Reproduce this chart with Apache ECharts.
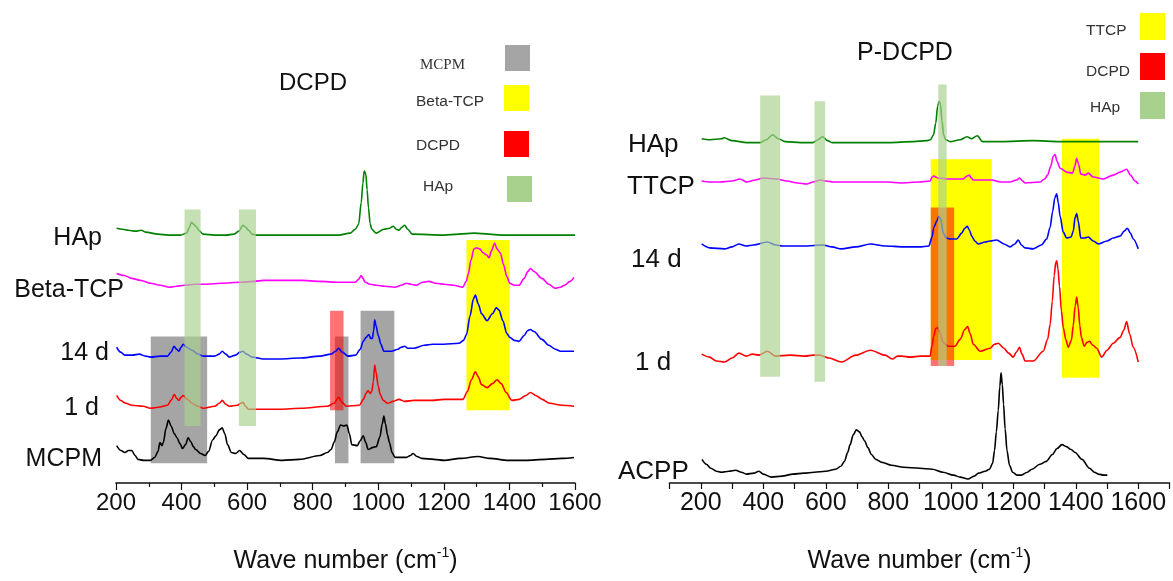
<!DOCTYPE html>
<html>
<head>
<meta charset="utf-8">
<title>Raman spectra: DCPD and P-DCPD</title>
<script src="https://cdn.jsdelivr.net/npm/echarts@6/dist/echarts.min.js"></script>
<style>
  html, body { margin: 0; padding: 0; background: #fff; }
  #chart { width: 1173px; height: 581px; }
</style>
</head>
<body>
<div id="chart"></div>
<script>
// ---- Left panel (DCPD): stacked spectra, [wave number, offset intensity] ----
const dcpdHAp = [[202,259],[220,258],[237,257],[260,256],[277,257],[290,255],[328,253],[360,252],[397,252],[415,254],[424,260],[430,265],[437,263],[443,261],[455,256],[466,253],[500,252],[535,252],[560,253],[575,256],[587,262],[596,260],[604,257],[615,253],[627,252],[750,252],[879,252],[914,254],[930,258],[940,263],[948,285],[953,305],[957,317],[962,314],[966,298],[970,280],[975,264],[980,258],[994,254],[1017,258],[1035,259],[1046,261],[1055,258],[1063,257],[1072,260],[1080,262],[1090,258],[1103,253],[1200,252],[1246,253],[1292,254],[1338,253],[1373,252],[1600,252]];
const dcpdBetaTCP = [[202,213],[225,211],[248,208],[275,206],[305,203],[335,201],[363,199],[385,200],[409,201],[440,202],[478,202],[520,203],[581,204],[620,205],[650,206],[700,206],[765,206],[820,205],[879,204],[930,204],[940,207],[948,211],[953,208],[960,204],[975,202],[994,201],[1020,200],[1051,199],[1070,201],[1086,203],[1100,202],[1115,201],[1135,204],[1155,205],[1175,203],[1201,202],[1230,201],[1258,199],[1268,205],[1275,213],[1282,226],[1292,238],[1300,239],[1309,238],[1320,234],[1330,232],[1338,229],[1345,236],[1355,244],[1362,238],[1372,234],[1382,222],[1392,210],[1401,203],[1415,201],[1429,201],[1445,208],[1456,215],[1464,218],[1475,215],[1499,208],[1520,202],[1539,198],[1555,199],[1568,201],[1585,205],[1597,209]];
const dcpd14d = [[202,138],[214,133],[227,130],[250,130],[271,131],[290,129],[305,128],[335,129],[357,129],[368,133],[377,139],[385,136],[392,134],[398,138],[405,141],[415,138],[432,135],[450,131],[466,129],[501,129],[515,131],[524,134],[535,131],[546,128],[565,130],[578,133],[587,134],[598,131],[615,128],[650,126],[700,126],[760,127],[822,129],[856,131],[870,134],[879,137],[890,133],[908,129],[931,130],[945,136],[954,144],[963,148],[971,151],[977,147],[982,147],[986,155],[989,166],[993,160],[1000,150],[1008,141],[1017,134],[1040,134],[1060,136],[1070,138],[1080,139],[1090,137],[1109,137],[1140,140],[1166,141],[1200,141],[1246,142],[1260,145],[1269,151],[1280,170],[1290,187],[1296,191],[1305,182],[1315,172],[1332,165],[1348,172],[1360,178],[1368,176],[1380,165],[1392,152],[1401,148],[1415,145],[1429,144],[1445,150],[1456,155],[1464,156],[1475,154],[1499,146],[1520,140],[1540,136],[1556,134],[1575,134],[1597,134]];
const dcpd1d = [[202,89],[214,84],[230,81],[248,79],[283,78],[305,76],[330,77],[357,79],[368,84],[378,90],[385,86],[392,84],[398,87],[405,89],[418,85],[432,81],[450,78],[466,76],[501,78],[515,81],[524,84],[535,80],[546,78],[570,79],[580,81],[587,82],[595,78],[604,75],[700,75],[765,76],[845,78],[865,81],[879,87],[890,82],[902,78],[942,79],[955,85],[962,91],[969,94],[975,91],[980,93],[985,103],[989,120],[993,113],[1000,98],[1006,90],[1015,84],[1029,81],[1045,83],[1063,85],[1080,83],[1109,84],[1140,84],[1166,84],[1200,85],[1258,85],[1272,93],[1284,105],[1296,113],[1305,108],[1315,100],[1332,97],[1348,101],[1362,105],[1375,101],[1390,92],[1407,84],[1430,85],[1450,89],[1464,92],[1480,89],[1500,85],[1522,81],[1560,79],[1597,78]];
const dcpdMCPM = [[202,38],[215,33],[227,31],[238,33],[248,33],[258,28],[267,24],[285,23],[305,23],[318,26],[328,32],[334,41],[340,38],[345,42],[352,55],[360,64],[368,58],[378,50],[386,46],[395,40],[403,35],[412,39],[420,46],[428,42],[436,37],[443,34],[458,30],[472,28],[482,32],[495,44],[505,48],[515,54],[524,56],[532,50],[540,39],[552,31],[565,30],[577,33],[590,29],[604,25],[650,25],[707,23],[760,24],[822,28],[845,31],[856,34],[866,42],[875,52],[885,59],[895,58],[904,59],[912,50],[919,39],[936,38],[945,43],[954,48],[962,41],[969,34],[982,36],[994,37],[1005,47],[1012,60],[1017,68],[1022,60],[1028,49],[1034,41],[1042,31],[1051,26],[1070,26],[1086,26],[1098,28],[1106,30],[1118,27],[1132,25],[1170,24],[1201,23],[1250,25],[1304,27],[1340,25],[1396,23],[1450,23],[1510,24],[1560,25],[1597,26]];

// Phase bands: [from, to, low, high, phase]
const dcpdBands = [
  [306, 478, 20, 149, 'MCPM'],
  [868, 909, 20, 149, 'MCPM'],
  [946, 1049, 20, 175, 'MCPM'],
  [1269, 1401, 74, 247, 'Beta-TCP'],
  [853, 894, 74, 175, 'DCPD'],
  [409, 458, 58, 278, 'HAp'],
  [575, 627, 58, 278, 'HAp']
];

// ---- Right panel (P-DCPD) ----
const pdcpdHAp = [[203,350],[230,349],[267,350],[275,351],[300,348],[348,346],[390,346],[410,349],[430,354],[448,350],[470,347],[520,346],[559,346],[575,349],[590,352],[606,348],[620,346],[800,346],[880,347],[923,348],[935,349],[945,354],[952,366],[958,383],[963,388],[967,385],[972,368],[977,354],[984,349],[998,347],[1030,349],[1052,352],[1067,350],[1085,353],[1102,347],[1160,347],[1264,348],[1350,347],[1600,347]];
const pdcpdTTCP = [[203,307],[230,306],[262,306],[300,307],[326,309],[347,306],[375,308],[400,310],[443,309],[475,307],[510,305],[539,304],[560,306],[582,308],[600,307],[624,306],[700,306],[800,306],[838,305],[900,306],[934,307],[940,311],[946,312],[960,310],[990,309],[1008,309],[1040,309],[1052,312],[1059,313],[1066,310],[1072,308],[1100,308],[1131,308],[1160,306],[1190,306],[1210,308],[1220,310],[1230,307],[1238,305],[1286,306],[1300,309],[1310,313],[1320,322],[1328,332],[1334,334],[1340,327],[1350,320],[1371,316],[1390,315],[1397,322],[1403,330],[1409,324],[1416,314],[1430,313],[1440,315],[1456,311],[1488,309],[1520,313],[1542,316],[1563,319],[1575,313],[1590,307],[1600,304]];
const pdcpd14d = [[203,243],[228,239],[276,238],[300,240],[322,243],[345,241],[369,242],[413,245],[440,242],[462,241],[533,241],[591,242],[620,240],[650,238],[696,240],[743,243],[790,241],[849,240],[900,240],[930,241],[940,250],[946,260],[955,266],[962,271],[968,268],[976,254],[986,249],[998,248],[1019,248],[1035,254],[1045,259],[1053,261],[1060,257],[1067,251],[1077,246],[1088,243],[1110,245],[1126,246],[1147,247],[1170,243],[1190,240],[1205,243],[1216,247],[1226,242],[1238,239],[1264,238],[1290,242],[1307,248],[1318,260],[1326,276],[1333,290],[1339,294],[1344,285],[1350,271],[1360,255],[1371,249],[1385,250],[1392,256],[1398,270],[1403,274],[1408,266],[1416,249],[1428,249],[1440,250],[1456,246],[1472,243],[1500,246],[1520,249],[1542,251],[1555,256],[1565,259],[1575,254],[1584,248],[1600,238]];
const pdcpd1d = [[203,131],[228,128],[250,124],[276,123],[300,127],[322,132],[346,129],[365,131],[387,130],[413,134],[439,129],[486,130],[533,129],[560,130],[580,130],[610,127],[650,123],[696,130],[743,135],[790,130],[813,126],[830,129],[843,129],[870,128],[902,129],[934,129],[940,140],[946,150],[952,157],[958,158],[966,152],[975,143],[992,139],[1013,139],[1030,146],[1045,156],[1054,159],[1062,152],[1072,141],[1094,134],[1126,137],[1140,141],[1152,142],[1170,137],[1185,132],[1200,128],[1210,133],[1220,138],[1228,131],[1238,124],[1264,124],[1296,134],[1310,146],[1318,161],[1325,185],[1331,211],[1336,224],[1339,226],[1343,218],[1348,200],[1354,175],[1360,158],[1368,146],[1376,138],[1386,145],[1392,160],[1398,180],[1403,189],[1408,178],[1413,160],[1418,148],[1427,139],[1436,143],[1444,144],[1455,140],[1467,137],[1483,128],[1500,135],[1520,142],[1542,148],[1553,155],[1563,164],[1572,152],[1584,138],[1600,123]];
const pdcpdACPP = [[204,24],[218,19],[232,15],[250,12],[266,11],[290,12],[312,13],[330,11],[346,9],[370,10],[386,12],[400,9],[426,6],[460,7],[495,9],[530,10],[564,11],[600,12],[632,14],[648,17],[660,22],[670,31],[678,39],[688,49],[698,54],[708,52],[716,47],[724,43],[735,36],[746,29],[760,24],[780,21],[810,18],[849,16],[900,15],[941,14],[975,11],[1009,8],[1030,6],[1055,4],[1075,7],[1089,10],[1110,12],[1124,14],[1134,20],[1140,33],[1146,52],[1152,74],[1157,98],[1161,112],[1165,100],[1169,80],[1174,55],[1180,33],[1188,18],[1198,11],[1212,8],[1226,8],[1245,11],[1260,14],[1285,19],[1306,22],[1325,29],[1340,35],[1356,39],[1370,37],[1385,34],[1398,31],[1420,24],[1444,15],[1460,11],[1472,9],[1490,8],[1501,8]];

const pdcpdBands = [
  [936, 1131, 125, 329, 'TTCP'],
  [1356, 1475, 107, 350, 'TTCP'],
  [936, 1011, 119, 280, 'DCPD'],
  [390, 454, 108, 394, 'HAp'],
  [564, 598, 103, 388, 'HAp'],
  [960, 987, 119, 405, 'HAp']
];

const xTicksRight = [200, 400, 600, 800, 1000, 1200, 1400, 1600];
const dcpdLegend = ['MCPM', 'Beta-TCP', 'DCPD', 'HAp'];
const pdcpdLegend = ['TTCP', 'DCPD', 'HAp'];

// ---- styling ----
const FONT = '"Liberation Sans", Arial, sans-serif';
const bandStyle = {
  'MCPM':     { fill: '#a5a5a5', opacity: 1,    z: 1 },
  'Beta-TCP': { fill: '#ffff00', opacity: 1,    z: 1 },
  'TTCP':     { fill: '#ffff00', opacity: 1,    z: 1 },
  'DCPD':     { fill: '#ff0000', opacity: 0.55, z: 1.5 },
  'HAp':      { fill: '#a9d18e', opacity: 0.68, z: 3 }
};
const legendColor = { 'MCPM': '#a5a5a5', 'Beta-TCP': '#ffff00', 'TTCP': '#ffff00', 'DCPD': '#ff0000', 'HAp': '#a9d18e' };

function bandSeries(axisIdx, bands, phase) {
  const style = bandStyle[phase];
  return {
    type: 'custom',
    xAxisIndex: axisIdx, yAxisIndex: axisIdx,
    z: style.z, silent: true,
    data: bands.filter(b => b[4] === phase).map(b => b.slice(0, 4)),
    encode: { x: [0, 1], y: [2, 3] },
    renderItem(params, api) {
      const a = api.coord([api.value(0), api.value(3)]);
      const b = api.coord([api.value(1), api.value(2)]);
      return {
        type: 'rect',
        shape: { x: a[0], y: a[1], width: b[0] - a[0], height: b[1] - a[1] },
        style: { fill: style.fill, opacity: style.opacity }
      };
    }
  };
}

function lineSeries(axisIdx, name, data, color) {
  return {
    type: 'line', name, data,
    xAxisIndex: axisIdx, yAxisIndex: axisIdx,
    z: 2, showSymbol: false, silent: true,
    smooth: 0.3, smoothMonotone: 'x',
    lineStyle: { color, width: 1.6 }
  };
}

const axisName = {
  name: 'Wave number (cm{sup|-1})',
  nameLocation: 'middle', nameGap: 63,
  nameTextStyle: {
    fontFamily: FONT, fontSize: 25, color: '#111', lineHeight: 30,
    rich: { sup: { fontFamily: FONT, fontSize: 14, color: '#111', verticalAlign: 'top', lineHeight: 30 } }
  }
};
const axisLine = { show: true, onZero: false, lineStyle: { color: '#111', width: 1.6 } };

// left axis: labelled every 200, minor ticks at the hundreds
const xAxisLeft = Object.assign({
  type: 'value', gridIndex: 0, min: 200, max: 1600, interval: 200,
  axisLine,
  axisTick: { show: true, length: 7, lineStyle: { color: '#111', width: 1.2 } },
  minorTick: { show: true, splitNumber: 2, length: 4, lineStyle: { color: '#111', width: 1.2 } },
  splitLine: { show: false }, minorSplitLine: { show: false },
  axisLabel: { fontFamily: FONT, fontSize: 24, color: '#111', margin: 8, formatter: v => String(v) }
}, axisName);

// right axis runs 100..1700 with a tick every 100, labels on 200..1600
const xAxisRight = Object.assign({
  type: 'value', gridIndex: 1, min: 100, max: 1700, interval: 100,
  axisLine,
  axisTick: { show: true, length: 6, lineStyle: { color: '#111', width: 1.2 } },
  splitLine: { show: false },
  axisLabel: {
    fontFamily: FONT, fontSize: 25, color: '#111', margin: 8,
    formatter: v => (xTicksRight.indexOf(v) >= 0 ? String(v) : '')
  }
}, axisName);

function yAxis(gridIndex) {
  return { type: 'value', gridIndex, min: 0, max: 491, show: false, splitLine: { show: false } };
}

function text(x, y, str, size, style) {
  return {
    type: 'text', x, y, silent: true,
    style: Object.assign({ text: str, font: size + 'px ' + FONT, fill: '#111', textVerticalAlign: 'middle' }, style || {})
  };
}
function swatch(x, y, w, h, color) {
  return { type: 'rect', silent: true, shape: { x, y, width: w, height: h }, style: { fill: color } };
}

const chart = echarts.init(document.getElementById('chart'), null, { renderer: 'canvas' });

const series = [
  bandSeries(0, dcpdBands, 'MCPM'),
  bandSeries(0, dcpdBands, 'Beta-TCP'),
  bandSeries(0, dcpdBands, 'DCPD'),
  lineSeries(0, 'HAp', dcpdHAp, '#008000'),
  lineSeries(0, 'Beta-TCP', dcpdBetaTCP, '#ff00ff'),
  lineSeries(0, '14 d', dcpd14d, '#0000ff'),
  lineSeries(0, '1 d', dcpd1d, '#ff0000'),
  lineSeries(0, 'MCPM', dcpdMCPM, '#000000'),
  bandSeries(0, dcpdBands, 'HAp'),

  bandSeries(1, pdcpdBands, 'TTCP'),
  bandSeries(1, pdcpdBands, 'DCPD'),
  lineSeries(1, 'HAp', pdcpdHAp, '#008000'),
  lineSeries(1, 'TTCP', pdcpdTTCP, '#ff00ff'),
  lineSeries(1, '14 d', pdcpd14d, '#0000ff'),
  lineSeries(1, '1 d', pdcpd1d, '#ff0000'),
  lineSeries(1, 'ACPP', pdcpdACPP, '#000000'),
  bandSeries(1, pdcpdBands, 'HAp')
];

// spectrum names at the left end of each trace
const leftNames = [['HAp', 102, 238], ['Beta-TCP', 124, 290], ['14 d', 109, 353], ['1 d', 99, 408], ['MCPM', 102, 459]];
const rightNames = [['HAp', 628, 145], ['TTCP', 627, 187], ['14 d', 631, 260], ['1 d', 635, 363], ['ACPP', 618, 472]];

const graphics = [];
leftNames.forEach(([s, x, y]) => graphics.push(text(x, y, s, 25, { textAlign: 'right' })));
rightNames.forEach(([s, x, y]) => graphics.push(text(x, y, s, 26, { textAlign: 'left' })));

// panel titles
graphics.push(text(313, 83, 'DCPD', 24, { textAlign: 'center' }));
graphics.push(text(905, 53, 'P-DCPD', 25, { textAlign: 'center' }));

// phase keys
const leftKeyRows = [[65, 45, 505, 420], [102, 85, 504, 416], [146, 131, 504, 416], [187, 176, 507, 423]];
dcpdLegend.forEach((p, i) => {
  const [ty, by, bx, tx] = leftKeyRows[i];
  const serif = p === 'MCPM';
  graphics.push(text(tx, ty, p, 15, {
    textAlign: 'left', fill: '#333',
    font: (serif ? '15px "Liberation Serif", "Times New Roman", serif' : '15.5px ' + FONT)
  }));
  graphics.push(swatch(bx, by, 25, 26, legendColor[p]));
});
const rightKeyRows = [[31, 13, 1086], [72, 53, 1086], [108, 92, 1090]];
pdcpdLegend.forEach((p, i) => {
  const [ty, by, tx] = rightKeyRows[i];
  graphics.push(text(tx, ty, p, 15.5, { textAlign: 'left', fill: '#333' }));
  graphics.push(swatch(1140, by, 25, 27, legendColor[p]));
});

chart.setOption({
  animation: false,
  backgroundColor: '#ffffff',
  grid: [
    { left: 116, top: 0, width: 459, height: 491 },
    { left: 669.5, top: 0, width: 500, height: 491 }
  ],
  xAxis: [ xAxisLeft, xAxisRight ],
  yAxis: [ yAxis(0), yAxis(1) ],
  series,
  graphic: { elements: graphics }
});
</script>
</body>
</html>
